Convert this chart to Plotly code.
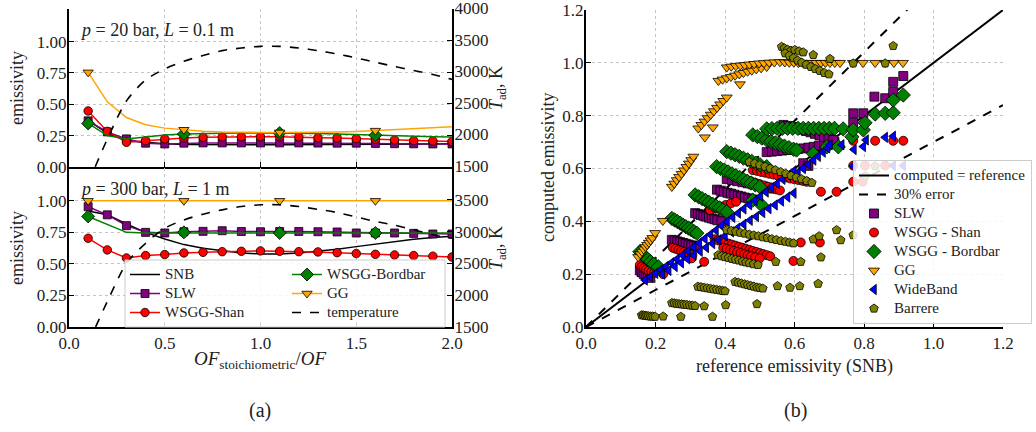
import plotly.graph_objects as go

W, H = 1036, 432
FONT = "Liberation Serif"
TXT = "#222222"

# ---------------- panel (a) data ----------------
of_ratio = [0.1, 0.2, 0.3, 0.4, 0.5, 0.6, 0.7, 0.8, 0.9, 1.0,
            1.1, 1.2, 1.3, 1.4, 1.5, 1.6, 1.7, 1.8, 1.9, 2.0]

# p = 20 bar, L = 0.1 m
eps20_snb = [0.370, 0.270, 0.210, 0.195, 0.185, 0.180, 0.178, 0.178, 0.178, 0.178,
             0.178, 0.178, 0.178, 0.178, 0.180, 0.181, 0.182, 0.183, 0.184, 0.185]
eps20_slw = [0.368, 0.280, 0.224, 0.190, 0.184, 0.190, 0.192, 0.192, 0.192, 0.192,
             0.192, 0.192, 0.191, 0.190, 0.190, 0.188, 0.186, 0.185, 0.184, 0.184]
eps20_shan = [0.447, 0.284, 0.197, 0.210, 0.224, 0.232, 0.237, 0.240, 0.241, 0.241,
              0.241, 0.240, 0.234, 0.232, 0.226, 0.221, 0.216, 0.211, 0.208, 0.203]
eps20_bordbar = [0.347, 0.250, 0.224, 0.242, 0.255, 0.263, 0.268, 0.270, 0.271, 0.271,
                 0.271, 0.270, 0.268, 0.263, 0.258, 0.253, 0.248, 0.245, 0.242, 0.240]
eps20_gg = [0.755, 0.520, 0.395, 0.337, 0.310, 0.297, 0.285, 0.279, 0.276, 0.276,
            0.276, 0.276, 0.277, 0.280, 0.284, 0.290, 0.296, 0.303, 0.311, 0.320]
temp20 = [1240, 1940, 2546, 2876, 3053, 3174, 3263, 3341, 3383, 3409,
          3409, 3383, 3341, 3289, 3226, 3158, 3090, 3027, 2964, 2886]

# p = 300 bar, L = 1 m
eps300_snb = [0.920, 0.890, 0.816, 0.750, 0.697, 0.653, 0.624, 0.605, 0.587, 0.579,
              0.579, 0.587, 0.600, 0.616, 0.637, 0.658, 0.676, 0.695, 0.710, 0.720]
eps300_slw = [0.953, 0.889, 0.803, 0.750, 0.745, 0.755, 0.758, 0.763, 0.757, 0.755,
              0.757, 0.757, 0.755, 0.753, 0.745, 0.745, 0.745, 0.742, 0.737, 0.737]
eps300_shan = [0.703, 0.611, 0.547, 0.566, 0.574, 0.587, 0.592, 0.597, 0.600, 0.603,
               0.600, 0.597, 0.595, 0.589, 0.582, 0.576, 0.571, 0.566, 0.561, 0.555]
eps300_bordbar = [0.876, 0.813, 0.750, 0.745, 0.745, 0.750, 0.745, 0.745, 0.745, 0.745,
                  0.745, 0.745, 0.745, 0.745, 0.745, 0.745, 0.745, 0.745, 0.745, 0.745]
eps300_gg = [1.000, 1.000, 1.000, 1.000, 1.000, 1.000, 1.000, 1.000, 1.000, 1.000,
             1.000, 1.000, 1.000, 1.000, 1.000, 1.000, 1.000, 1.000, 1.000, 1.000]
temp300 = [1240, 1900, 2500, 2816, 3053, 3184, 3274, 3342, 3395, 3421,
           3421, 3395, 3350, 3300, 3230, 3160, 3100, 3030, 2950, 2895]

emis_ticks = [0.0, 0.25, 0.5, 0.75, 1.0]
temp_ticks_top = [1500, 2000, 2500, 3000, 3500, 4000]
temp_ticks_bottom = [1500, 2000, 2500, 3000, 3500]
of_ticks = [0.0, 0.5, 1.0, 1.5, 2.0]

# ---------------- panel (b) data ----------------
diag_ref = [0.0, 1.2]
error_frac = 0.3

slw_ref = [0.155, 0.160, 0.166, 0.172, 0.178, 0.185,
           0.247, 0.255, 0.263, 0.271, 0.279, 0.287, 0.295, 0.303, 0.311, 0.319,
           0.314, 0.322, 0.330, 0.338, 0.346, 0.354, 0.362, 0.370, 0.378, 0.390,
           0.377, 0.387, 0.397, 0.407, 0.417, 0.427, 0.437, 0.447, 0.457, 0.467, 0.478, 0.490,
           0.405, 0.420, 0.435, 0.450, 0.465, 0.480, 0.495, 0.510, 0.525, 0.540,
           0.520, 0.535, 0.550, 0.565, 0.580, 0.595, 0.610, 0.625, 0.640, 0.655, 0.670, 0.685, 0.700, 0.715,
           0.568, 0.581, 0.594, 0.607, 0.620, 0.633, 0.646, 0.659, 0.672, 0.685, 0.698, 0.712,
           0.625, 0.640,
           0.769, 0.798, 0.769, 0.830, 0.861, 0.884, 0.884, 0.913]
slw_calc = [0.215, 0.208, 0.201, 0.195, 0.190, 0.186,
            0.330, 0.327, 0.324, 0.321, 0.318, 0.315, 0.312, 0.309, 0.306, 0.304,
            0.431, 0.428, 0.424, 0.421, 0.418, 0.414, 0.411, 0.408, 0.404, 0.400,
            0.520, 0.516, 0.512, 0.508, 0.505, 0.501, 0.497, 0.494, 0.490, 0.487, 0.483, 0.480,
            0.560, 0.556, 0.552, 0.548, 0.544, 0.540, 0.536, 0.532, 0.528, 0.524,
            0.662, 0.664, 0.666, 0.668, 0.670, 0.672, 0.674, 0.676, 0.679, 0.682, 0.686, 0.690, 0.695, 0.700,
            0.765, 0.761, 0.757, 0.752, 0.747, 0.742, 0.737, 0.731, 0.725, 0.719, 0.713, 0.708,
            0.620, 0.610,
            0.809, 0.809, 0.773, 0.872, 0.866, 0.890, 0.928, 0.950]

shan_ref = [0.155, 0.161, 0.167, 0.173, 0.180, 0.188, 0.196, 0.222,
            0.250, 0.258, 0.266, 0.274, 0.282, 0.290, 0.298, 0.306, 0.304, 0.340,
            0.370, 0.380, 0.390, 0.400, 0.410, 0.420, 0.430, 0.440, 0.450, 0.460, 0.470, 0.480,
            0.490, 0.500, 0.510, 0.520, 0.530,
            0.395, 0.405, 0.415, 0.425, 0.435, 0.445, 0.455, 0.465, 0.475, 0.487, 0.500,
            0.597, 0.618, 0.673,
            0.357, 0.372, 0.387, 0.402, 0.417, 0.432,
            0.463, 0.475, 0.487, 0.499, 0.511, 0.523, 0.535, 0.547, 0.558,
            0.480, 0.492, 0.504, 0.516, 0.528, 0.540, 0.552, 0.564, 0.576, 0.588, 0.600, 0.612, 0.624, 0.635,
            0.676, 0.721, 0.769, 0.796, 0.769, 0.803, 0.861, 0.769, 0.832, 0.884, 0.913]
shan_calc = [0.235, 0.229, 0.223, 0.218, 0.213, 0.209, 0.205, 0.200,
             0.300, 0.296, 0.292, 0.288, 0.284, 0.280, 0.276, 0.272, 0.260, 0.247,
             0.332, 0.328, 0.324, 0.320, 0.316, 0.312, 0.308, 0.304, 0.300, 0.296, 0.292, 0.288,
             0.284, 0.280, 0.276, 0.272, 0.268,
             0.300, 0.296, 0.292, 0.288, 0.284, 0.280, 0.276, 0.272, 0.268, 0.264, 0.260,
             0.250, 0.320, 0.320,
             0.443, 0.450, 0.456, 0.462, 0.468, 0.474,
             0.556, 0.551, 0.546, 0.541, 0.536, 0.531, 0.526, 0.521, 0.517,
             0.594, 0.591, 0.587, 0.584, 0.580, 0.577, 0.573, 0.570, 0.566, 0.562, 0.559, 0.556, 0.553, 0.550,
             0.512, 0.512, 0.550, 0.550, 0.611, 0.611, 0.611, 0.705, 0.705, 0.705, 0.705]

bordbar_ref = [0.155, 0.162, 0.170, 0.178, 0.186, 0.195, 0.208,
               0.247, 0.255, 0.263, 0.271, 0.279, 0.287, 0.295, 0.303, 0.311, 0.319,
               0.314, 0.324, 0.334, 0.344, 0.354, 0.364, 0.374, 0.384, 0.394, 0.405,
               0.376, 0.387, 0.398, 0.409, 0.420, 0.431, 0.442, 0.453, 0.464, 0.475, 0.487, 0.500,
               0.405, 0.417, 0.429, 0.441, 0.453, 0.465, 0.477, 0.489, 0.501, 0.520,
               0.480, 0.493, 0.506, 0.519, 0.532, 0.545, 0.558, 0.571, 0.584, 0.597, 0.606,
               0.520, 0.535, 0.550, 0.565, 0.580, 0.595, 0.610, 0.625, 0.640, 0.655, 0.670, 0.685, 0.700, 0.715, 0.740,
               0.480, 0.505,
               0.654, 0.693, 0.726, 0.765, 0.769, 0.798, 0.803, 0.832, 0.861, 0.884, 0.884, 0.913]
bordbar_calc = [0.285, 0.275, 0.265, 0.256, 0.247, 0.238, 0.228,
                0.411, 0.405, 0.399, 0.393, 0.386, 0.380, 0.374, 0.368, 0.361, 0.355,
                0.500, 0.493, 0.486, 0.479, 0.472, 0.465, 0.458, 0.451, 0.443, 0.436,
                0.607, 0.600, 0.594, 0.587, 0.580, 0.573, 0.566, 0.559, 0.552, 0.545, 0.538, 0.531,
                0.664, 0.658, 0.652, 0.646, 0.639, 0.633, 0.627, 0.620, 0.614, 0.607,
                0.727, 0.721, 0.715, 0.709, 0.703, 0.697, 0.691, 0.685, 0.679, 0.673, 0.670,
                0.750, 0.751, 0.752, 0.752, 0.752, 0.752, 0.752, 0.752, 0.752, 0.752, 0.752, 0.752, 0.752, 0.752, 0.750,
                0.480, 0.462,
                0.657, 0.682, 0.682, 0.720, 0.746, 0.746, 0.773, 0.806, 0.809, 0.811, 0.859, 0.878]

gg_ref = [0.150, 0.156, 0.161, 0.166, 0.171, 0.176, 0.181, 0.186, 0.191, 0.199, 0.221,
          0.247, 0.254, 0.261, 0.268, 0.275, 0.282, 0.289, 0.296, 0.303, 0.309, 0.342, 0.365,
          0.323, 0.332, 0.341, 0.350, 0.359, 0.368, 0.377, 0.386, 0.395, 0.405, 0.443,
          0.381, 0.393, 0.405, 0.417, 0.429, 0.441, 0.453, 0.465, 0.477, 0.490, 0.504, 0.520,
          0.405, 0.418, 0.431, 0.444, 0.457, 0.470, 0.484, 0.498, 0.512, 0.527, 0.542, 0.558,
          0.572, 0.585, 0.598, 0.611, 0.624, 0.637, 0.650, 0.663, 0.676, 0.689, 0.702, 0.716, 0.731,
          0.768, 0.797, 0.832, 0.861, 0.886, 0.912]
gg_calc = [0.265, 0.276, 0.285, 0.294, 0.303, 0.311, 0.319, 0.328, 0.337, 0.356, 0.402,
           0.531, 0.543, 0.556, 0.568, 0.580, 0.593, 0.606, 0.619, 0.632, 0.645, 0.718, 0.756,
           0.752, 0.765, 0.778, 0.791, 0.804, 0.817, 0.830, 0.843, 0.856, 0.869, 0.919,
           0.932, 0.937, 0.942, 0.947, 0.952, 0.957, 0.962, 0.967, 0.971, 0.976, 0.980, 0.985,
           0.983, 0.986, 0.988, 0.990, 0.992, 0.994, 0.996, 0.998, 0.999, 1.001, 1.002, 1.003,
           1.002, 1.001, 1.001, 1.000, 1.000, 1.000, 1.000, 1.000, 1.000, 1.000, 1.000, 1.000, 1.000,
           1.000, 1.000, 1.000, 1.000, 1.000, 1.000]

wideband_ref = [0.170, 0.185, 0.200, 0.215, 0.230, 0.246, 0.262, 0.278, 0.294, 0.310, 0.326, 0.342, 0.358, 0.374,
                0.390, 0.406, 0.422, 0.438, 0.454, 0.470, 0.486, 0.502, 0.518, 0.534, 0.550, 0.566, 0.582, 0.598,
                0.220, 0.238, 0.256, 0.274, 0.292, 0.310, 0.328, 0.346, 0.364, 0.382, 0.400,
                0.418, 0.436, 0.454, 0.472, 0.490, 0.508, 0.526, 0.544, 0.562, 0.580, 0.598,
                0.610, 0.625, 0.640, 0.655, 0.668, 0.682, 0.695, 0.702,
                0.736, 0.771, 0.798, 0.806, 0.861, 0.884, 0.769, 0.884, 0.913]
wideband_calc = [0.178, 0.190, 0.203, 0.216, 0.229, 0.243, 0.257, 0.272, 0.287, 0.302, 0.318, 0.334, 0.350, 0.366,
                 0.383, 0.399, 0.415, 0.431, 0.447, 0.463, 0.479, 0.495, 0.511, 0.527, 0.543, 0.559, 0.575, 0.591,
                 0.200, 0.214, 0.229, 0.243, 0.258, 0.272, 0.287, 0.301, 0.316, 0.330, 0.345,
                 0.360, 0.374, 0.389, 0.404, 0.418, 0.433, 0.448, 0.462, 0.477, 0.492, 0.507,
                 0.585, 0.600, 0.615, 0.632, 0.646, 0.662, 0.678, 0.690,
                 0.690, 0.672, 0.683, 0.708, 0.718, 0.722, 0.609, 0.611, 0.611]

barrere_ref = [0.160, 0.165, 0.170, 0.175, 0.180, 0.186, 0.192, 0.199, 0.222, 0.273, 0.364,
               0.247, 0.254, 0.261, 0.268, 0.275, 0.282, 0.290, 0.298, 0.306, 0.314, 0.340, 0.402, 0.492,
               0.322, 0.331, 0.340, 0.349, 0.358, 0.367, 0.376, 0.385, 0.393, 0.400,
               0.429, 0.438, 0.447, 0.456, 0.465, 0.474, 0.483, 0.492, 0.500, 0.509,
               0.551, 0.587, 0.615, 0.668,
               0.380, 0.390, 0.400, 0.410, 0.420, 0.430, 0.440, 0.450, 0.460, 0.470, 0.482, 0.495,
               0.546, 0.618, 0.676,
               0.405, 0.418, 0.431, 0.444, 0.457, 0.470, 0.483, 0.496, 0.509, 0.522, 0.535, 0.548,
               0.561, 0.574, 0.586, 0.597,
               0.654, 0.671, 0.721, 0.733, 0.769,
               0.470, 0.485, 0.500, 0.515, 0.530, 0.545, 0.560, 0.575, 0.590, 0.605, 0.620, 0.635, 0.650,
               0.804, 0.832,
               0.563, 0.571, 0.580, 0.590, 0.601, 0.613, 0.625, 0.654, 0.702,
               0.573, 0.585, 0.597, 0.609, 0.621, 0.634, 0.647, 0.660, 0.673, 0.686, 0.699,
               0.769, 0.861, 0.884]
barrere_calc = [0.045, 0.044, 0.043, 0.042, 0.041, 0.040, 0.040, 0.039, 0.040, 0.039, 0.039,
                0.091, 0.090, 0.088, 0.087, 0.086, 0.085, 0.084, 0.082, 0.081, 0.080, 0.079, 0.083, 0.087,
                0.153, 0.151, 0.149, 0.147, 0.145, 0.143, 0.141, 0.139, 0.137, 0.136,
                0.171, 0.168, 0.165, 0.162, 0.159, 0.156, 0.153, 0.150, 0.148, 0.146,
                0.155, 0.149, 0.155, 0.164,
                0.272, 0.268, 0.265, 0.262, 0.258, 0.255, 0.252, 0.248, 0.245, 0.242, 0.238, 0.235,
                0.247, 0.247, 0.264,
                0.367, 0.364, 0.361, 0.357, 0.354, 0.350, 0.347, 0.344, 0.340, 0.337, 0.333, 0.330,
                0.326, 0.323, 0.320, 0.317,
                0.332, 0.344, 0.367, 0.329, 0.348,
                0.625, 0.619, 0.613, 0.607, 0.600, 0.594, 0.587, 0.580, 0.573, 0.566, 0.560, 0.553, 0.546,
                0.572, 0.609,
                1.061, 1.055, 1.050, 1.046, 1.049, 1.044, 1.040, 1.030, 1.015,
                1.036, 1.027, 1.018, 1.009, 1.001, 0.993, 0.985, 0.977, 0.970, 0.962, 0.957,
                0.998, 0.998, 1.064]

scatter_ticks = [0.0, 0.2, 0.4, 0.6, 0.8, 1.0, 1.2]

# ---------------- styles ----------------
C_SNB = "black"
C_SLW = "#800080"
C_SHAN = "#ff0000"
C_BORD = "#008000"
C_GG = "#ffa500"
C_WB = "#0000ff"
C_BAR = "#808000"
every5 = list(range(0, len(of_ratio), 5))


def lg(text, size):
    return '<span style="font-family:Liberation Serif;font-size:%dpx">%s</span>' % (size, text)


fig = go.Figure()

panels = [
    dict(xa="x", ya="y", ta="y2", snb=eps20_snb, slw=eps20_slw, shan=eps20_shan,
         bord=eps20_bordbar, gg=eps20_gg, temp=temp20, show=False),
    dict(xa="x2", ya="y3", ta="y4", snb=eps300_snb, slw=eps300_slw, shan=eps300_shan,
         bord=eps300_bordbar, gg=eps300_gg, temp=temp300, show=True),
]
for p in panels:
    fig.add_trace(go.Scatter(x=of_ratio, y=p["snb"], xaxis=p["xa"], yaxis=p["ya"], mode="lines",
                             line=dict(color=C_SNB, width=1.5), name=lg("SNB", 15),
                             legend="legend2", showlegend=p["show"]))
    fig.add_trace(go.Scatter(x=of_ratio, y=p["slw"], xaxis=p["xa"], yaxis=p["ya"], mode="lines+markers",
                             line=dict(color=C_SLW, width=1.5),
                             marker=dict(symbol="square", size=8, color=C_SLW, line=dict(color="black", width=0.8)),
                             name=lg("SLW", 15), legend="legend2", showlegend=p["show"]))
    fig.add_trace(go.Scatter(x=of_ratio, y=p["shan"], xaxis=p["xa"], yaxis=p["ya"], mode="lines+markers",
                             line=dict(color=C_SHAN, width=1.5),
                             marker=dict(symbol="circle", size=8.5, color=C_SHAN, line=dict(color="black", width=0.8)),
                             name=lg("WSGG-Shan", 15), legend="legend2", showlegend=p["show"]))
    fig.add_trace(go.Scatter(x=of_ratio, y=p["bord"], xaxis=p["xa"], yaxis=p["ya"], mode="lines+markers",
                             line=dict(color=C_BORD, width=1.5),
                             marker=dict(symbol="diamond", size=10, color=C_BORD,
                                         line=dict(color="black", width=0.8)),
                             selectedpoints=every5, selected=dict(marker=dict(opacity=1)),
                             unselected=dict(marker=dict(opacity=0)),
                             name=lg("WSGG-Bordbar", 15), legend="legend3", showlegend=p["show"]))
    fig.add_trace(go.Scatter(x=of_ratio, y=p["gg"], xaxis=p["xa"], yaxis=p["ya"], mode="lines+markers",
                             line=dict(color=C_GG, width=1.5),
                             marker=dict(symbol="triangle-down", size=9, color=C_GG,
                                         line=dict(color="black", width=0.8)),
                             selectedpoints=every5, selected=dict(marker=dict(opacity=1)),
                             unselected=dict(marker=dict(opacity=0)),
                             name=lg("GG", 15), legend="legend3", showlegend=p["show"]))
    fig.add_trace(go.Scatter(x=of_ratio, y=p["temp"], xaxis=p["xa"], yaxis=p["ta"], mode="lines",
                             line=dict(color="black", width=1.6, dash="dash", shape="spline", smoothing=0.8),
                             name=lg("temperature", 15), legend="legend3", showlegend=p["show"]))

# ---- panel (b) ----
fig.add_trace(go.Scatter(x=diag_ref, y=diag_ref, xaxis="x3", yaxis="y5", mode="lines",
                         line=dict(color="black", width=2), name=lg("computed = reference", 15)))
fig.add_trace(go.Scatter(x=diag_ref, y=[v * (1 + error_frac) for v in diag_ref], xaxis="x3", yaxis="y5",
                         mode="lines", line=dict(color="black", width=2, dash="dash"),
                         name=lg("30% error", 15)))
fig.add_trace(go.Scatter(x=diag_ref, y=[v * (1 - error_frac) for v in diag_ref], xaxis="x3", yaxis="y5",
                         mode="lines", line=dict(color="black", width=2, dash="dash"),
                         showlegend=False))

series_b = [
    ("SLW", slw_ref, slw_calc, "square", 9, C_SLW),
    ("WSGG - Shan", shan_ref, shan_calc, "circle", 9, C_SHAN),
    ("WSGG - Bordbar", bordbar_ref, bordbar_calc, "diamond", 11, C_BORD),
    ("GG", gg_ref, gg_calc, "triangle-down", 9.5, C_GG),
    ("WideBand", wideband_ref, wideband_calc, "triangle-left", 9, C_WB),
    ("Barrere", barrere_ref, barrere_calc, "pentagon", 9, C_BAR),
]
for name, xs, ys, sym, sz, col in series_b:
    fig.add_trace(go.Scatter(x=xs, y=ys, xaxis="x3", yaxis="y5", mode="markers",
                             marker=dict(symbol=sym, size=sz, color=col, line=dict(color="black", width=0.8)),
                             name=lg(name, 15)))

# ---------------- layout ----------------
tickfont = dict(family=FONT, size=17, color=TXT)
grid = dict(showgrid=True, gridcolor="#c4c4c4", griddash="dot", gridwidth=1)
spine = dict(showline=True, linecolor="black", linewidth=2, ticks="inside", ticklen=5,
             tickcolor="black", tickwidth=1, tickfont=tickfont, zeroline=False,
             ticklabeloverflow="allow")
ystand = dict(ticklabelstandoff=-3)

xl = [69 / W, 452 / W]
y_top = [1 - 167 / H, 1 - 9 / H]
y_bot = [1 - 327 / H, 1 - 168 / H]

fig.update_layout(
    width=W, height=H, template="none",
    paper_bgcolor="white", plot_bgcolor="white",
    margin=dict(l=0, r=0, t=0, b=0),
    font=dict(family=FONT, color=TXT),
    xaxis=dict(domain=xl, anchor="y", range=[0, 2.0], tickvals=of_ticks, showticklabels=False, **grid, **spine),
    yaxis=dict(domain=y_top, anchor="x", range=[0, 1.26], tickvals=emis_ticks, tickformat=".2f",
               **grid, **spine, **ystand),
    yaxis2=dict(overlaying="y", side="right", anchor="x", range=[1500, 4000], tickvals=temp_ticks_top,
                showgrid=False, ticklabelshift=-1, **spine, **ystand),
    xaxis2=dict(domain=xl, anchor="y3", range=[0, 2.0], tickvals=of_ticks, tickformat=".1f", **grid, **spine),
    yaxis3=dict(domain=y_bot, anchor="x2", range=[0, 1.26], tickvals=emis_ticks, tickformat=".2f",
                **grid, **spine, **ystand),
    yaxis4=dict(overlaying="y3", side="right", anchor="x2", range=[1500, 4000], tickvals=temp_ticks_bottom,
                showgrid=False, **spine, **ystand),
    xaxis3=dict(domain=[586 / W, 1003 / W], anchor="y5", range=[0, 1.2], tickvals=scatter_ticks,
                tickformat=".1f", **grid, **spine),
    yaxis5=dict(domain=[1 - 327 / H, 1 - 10 / H], anchor="x3", range=[0, 1.2], tickvals=scatter_ticks,
                tickformat=".1f", **grid, **spine, **ystand),
    legend=dict(x=853 / W, y=1 - 324 / H, xanchor="left", yanchor="bottom",
                bgcolor="rgba(255,255,255,0.85)", bordercolor="#cccccc", borderwidth=1,
                font=dict(family=FONT, size=12, color=TXT), itemwidth=30, tracegroupgap=0),
    legend2=dict(x=125 / W, y=1 - 327 / H, xanchor="left", yanchor="bottom",
                 bgcolor="rgba(0,0,0,0)", borderwidth=0,
                 font=dict(family=FONT, size=12, color=TXT), itemwidth=30),
    legend3=dict(x=287 / W, y=1 - 327 / H, xanchor="left", yanchor="bottom",
                 bgcolor="rgba(0,0,0,0)", borderwidth=0,
                 font=dict(family=FONT, size=12, color=TXT), itemwidth=30),
    shapes=[dict(type="rect", xref="paper", yref="paper", x0=125 / W, x1=445 / W,
                 y0=1 - 327 / H, y1=1 - 260 / H, fillcolor="rgba(255,255,255,0.85)",
                 line=dict(color="#cccccc", width=1), layer="above")],
)

ann_font = dict(family=FONT, size=18, color=TXT)
annotations = [
    dict(x=78 / W, y=1 - 30 / H, text="<i>p</i> = 20 bar, <i>L</i> = 0.1 m", xanchor="left"),
    dict(x=78 / W, y=1 - 189 / H, text="<i>p</i> = 300 bar, <i>L</i> = 1 m", xanchor="left"),
    dict(x=17 / W, y=1 - 88 / H, text="emissivity", textangle=-90),
    dict(x=17 / W, y=1 - 248 / H, text="emissivity", textangle=-90),
    dict(x=497 / W, y=1 - 88 / H, text="<i>T</i><sub>ad</sub>, K", textangle=-90),
    dict(x=497 / W, y=1 - 248 / H, text="<i>T</i><sub>ad</sub>, K", textangle=-90),
    dict(x=260 / W, y=1 - 360 / H, text="<i>OF</i><sub>stoichiometric</sub>/<i>OF</i>",
         font=dict(family=FONT, size=19, color=TXT)),
    dict(x=548 / W, y=1 - 168 / H, text="computed emissivity", textangle=-90),
    dict(x=794 / W, y=1 - 366 / H, text="reference emissivity (SNB)"),
    dict(x=260 / W, y=1 - 410 / H, text="(a)", font=dict(family=FONT, size=20, color=TXT)),
    dict(x=795 / W, y=1 - 410 / H, text="(b)", font=dict(family=FONT, size=20, color=TXT)),
]
for a in annotations:
    base = dict(xref="paper", yref="paper", showarrow=False, font=ann_font, xanchor="center", yanchor="middle")
    base.update(a)
    fig.add_annotation(**base)

fig.write_html("out.html", config={"displayModeBar": False},
               post_script="document.body.style.margin='0px';document.body.style.overflow='hidden';")
